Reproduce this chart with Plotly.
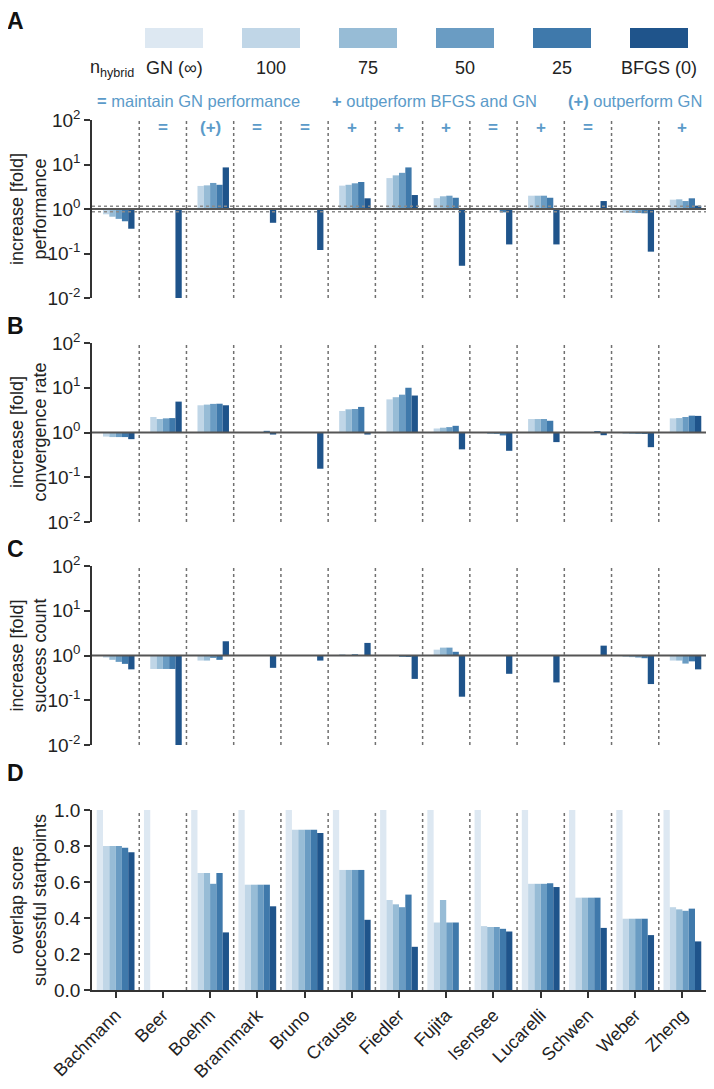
import plotly.graph_objects as go

# the page adds an 8px body margin, so the figure is drawn 16px smaller
PAGE_W, PAGE_H, OFF = 714, 1089, 8
W, H = PAGE_W - 2 * OFF, PAGE_H - 2 * OFF
LEFT, RIGHT = 92 - OFF, 0

models = ['Bachmann', 'Beer', 'Boehm', 'Brannmark', 'Bruno', 'Crauste', 'Fiedler',
          'Fujita', 'Isensee', 'Lucarelli', 'Schwen', 'Weber', 'Zheng']
nhybrid_labels = ['GN (∞)', '100', '75', '50', '25', 'BFGS (0)']
colors = ['#dde8f2', '#c0d6e7', '#97bcd6', '#6a9cc3', '#3f79ab', '#1f548b']

# marks above panel A: = maintain GN, + outperform BFGS and GN, (+) outperform GN
verdicts = ['', '=', '(+)', '=', '=', '+', '+', '+', '=', '+', '=', '', '+']

# fold change relative to GN, one row per n_hybrid (GN, 100, 75, 50, 25, BFGS)
performance = [
    [1.0] * 13,
    [0.76, 1.0, 3.3, 1.0, 0.98, 3.35, 4.95, 1.75, 1.0, 1.99, 1.0, 0.82, 1.62],
    [0.67, 1.0, 3.4, 1.0, 0.98, 3.5, 5.7, 1.93, 0.99, 1.99, 1.0, 0.82, 1.65],
    [0.6, 1.0, 3.85, 1.0, 0.98, 3.78, 6.5, 1.99, 0.96, 1.99, 1.0, 0.81, 1.51],
    [0.53, 1.0, 3.5, 0.98, 0.98, 4.05, 8.6, 1.79, 0.84, 1.79, 1.04, 0.8, 1.74],
    [0.36, 0.01, 8.6, 0.49, 0.12, 1.74, 2.06, 0.053, 0.16, 0.16, 1.51, 0.11, 1.19],
]
convergence = [
    [1.0] * 13,
    [0.81, 2.22, 4.06, 1.0, 0.98, 3.03, 5.5, 1.23, 0.98, 2.0, 1.0, 0.97, 2.07],
    [0.79, 2.0, 4.2, 1.0, 0.98, 3.3, 6.15, 1.28, 0.95, 2.0, 1.0, 0.97, 2.1],
    [0.79, 2.07, 4.36, 1.02, 0.98, 3.35, 7.0, 1.32, 0.95, 2.0, 1.0, 0.97, 2.22],
    [0.79, 2.1, 4.4, 1.09, 0.98, 3.73, 10.0, 1.41, 0.86, 1.83, 1.05, 0.97, 2.38],
    [0.71, 4.9, 4.06, 0.9, 0.155, 0.9, 6.7, 0.42, 0.39, 0.61, 0.87, 0.47, 2.35],
]
success = [
    [1.0] * 13,
    [0.9, 0.5, 0.77, 1.0, 1.0, 1.04, 0.99, 1.35, 1.0, 1.0, 1.0, 0.93, 0.77],
    [0.8, 0.5, 0.77, 1.0, 1.0, 1.0, 0.99, 1.5, 1.0, 1.0, 1.0, 0.92, 0.77],
    [0.72, 0.5, 0.88, 1.0, 1.0, 1.05, 0.97, 1.5, 1.0, 1.0, 1.0, 0.9, 0.66],
    [0.65, 0.5, 0.8, 1.0, 1.0, 1.0, 0.93, 1.21, 1.0, 1.0, 1.0, 0.87, 0.74],
    [0.49, 0.01, 2.08, 0.53, 0.77, 1.91, 0.3, 0.12, 0.39, 0.25, 1.66, 0.23, 0.49],
]
overlap = [
    [1.0] * 13,
    [0.8, 0, 0.65, 0.585, 0.89, 0.667, 0.5, 0.375, 0.355, 0.59, 0.513, 0.396, 0.46],
    [0.8, 0, 0.65, 0.585, 0.89, 0.667, 0.476, 0.5, 0.35, 0.59, 0.513, 0.396, 0.448],
    [0.8, 0, 0.59, 0.585, 0.89, 0.667, 0.46, 0.375, 0.35, 0.59, 0.513, 0.396, 0.44],
    [0.79, 0, 0.65, 0.585, 0.89, 0.667, 0.53, 0.375, 0.34, 0.593, 0.513, 0.396, 0.452],
    [0.765, 0, 0.32, 0.465, 0.872, 0.39, 0.24, 0, 0.325, 0.572, 0.345, 0.305, 0.27],
]

FONT = 'Liberation Sans, Arial, sans-serif'
BLUE = '#5b9bc9'
AXIS = '#333333'


def px(p):
    # page x pixel -> paper x
    return (p - OFF - LEFT) / (W - LEFT - RIGHT)


def py(p):
    # page y pixel -> paper y
    return 1 - (p - OFF) / H


panels = [
    ('A', performance, 'increase [fold]<br>performance', 120, 298, True),
    ('B', convergence, 'increase [fold]<br>convergence rate', 343, 522, True),
    ('C', success, 'increase [fold]<br>success count', 566, 745, True),
    ('D', overlap, 'overlap score<br>successful startpoints', 810, 990, False),
]
letter_y = {'A': 21, 'B': 326, 'C': 549, 'D': 773}

xpos = list(range(len(models)))
fig = go.Figure()
shapes = []
annotations = []
layout = {}

for k, (letter, data, title, top, bottom, is_log) in enumerate(panels):
    n = '' if k == 0 else str(k + 1)
    xa, ya = 'x' + n, 'y' + n
    for j, series in enumerate(data):
        if is_log:
            fig.add_bar(x=xpos, y=[v - 1 for v in series], base=1, xaxis=xa, yaxis=ya,
                        marker=dict(color=colors[j], line=dict(width=0)),
                        name=nhybrid_labels[j], showlegend=False)
        else:
            fig.add_bar(x=xpos, y=series, xaxis=xa, yaxis=ya,
                        marker=dict(color=colors[j], line=dict(width=0)),
                        name=nhybrid_labels[j], showlegend=False)
    if is_log:
        if letter == 'A':
            for thr in (1.15, 1 / 1.15):
                fig.add_scatter(x=[-0.5, 12.5], y=[thr, thr], mode='lines', xaxis=xa, yaxis=ya,
                                line=dict(color='#8a8a8a', width=1.5, dash='dot'),
                                showlegend=False, hoverinfo='skip')
        fig.add_scatter(x=[-0.5, 12.5], y=[1, 1], mode='lines', xaxis=xa, yaxis=ya,
                        line=dict(color='#555555', width=2), showlegend=False, hoverinfo='skip')

    for i in range(len(models) - 1):
        shapes.append(dict(type='line', xref=xa, yref=ya + ' domain', x0=i + 0.5, x1=i + 0.5,
                           y0=0, y1=1, line=dict(color='#707070', width=1.5, dash='dot')))

    xaxis = dict(domain=[0, 1], range=[-0.5, 12.5], anchor=ya, showgrid=False, zeroline=False,
                 showticklabels=False, ticks='', showline=False, automargin=False)
    if k == 3:
        xaxis.update(tickvals=xpos, ticktext=models, showticklabels=True, tickangle=-45,
                     ticks='outside', ticklen=6, tickwidth=1.5, tickcolor=AXIS,
                     showline=True, linecolor=AXIS, linewidth=1.5,
                     tickfont=dict(size=18, color='#222'))
    layout['xaxis' + n] = xaxis

    yaxis = dict(domain=[py(bottom), py(top)], anchor=xa, showgrid=False, zeroline=False,
                 showline=True, linecolor=AXIS, linewidth=1.5, ticks='outside', ticklen=6,
                 tickwidth=1.5, tickcolor=AXIS, tickfont=dict(size=19, color='#222'),
                 automargin=False)
    if is_log:
        yaxis.update(type='log', range=[-2, 2], tickvals=[0.01, 0.1, 1, 10, 100],
                     ticktext=['10<sup>-2</sup>', '10<sup>-1</sup>', '10<sup>0</sup>',
                               '10<sup>1</sup>', '10<sup>2</sup>'])
    else:
        yaxis.update(range=[0, 1.0], tickvals=[0, 0.2, 0.4, 0.6, 0.8, 1.0],
                     ticktext=['0.0', '0.2', '0.4', '0.6', '0.8', '1.0'])
    layout['yaxis' + n] = yaxis

    annotations.append(dict(text=title, textangle=-90, xref='paper', yref='paper',
                            x=px(28), y=py((top + bottom) / 2), xanchor='center', yanchor='middle',
                            showarrow=False, font=dict(size=18, color='#222')))
    annotations.append(dict(text='<b>%s</b>' % letter, xref='paper', yref='paper',
                            x=px(15), y=py(letter_y[letter]), xanchor='center', yanchor='middle',
                            showarrow=False, font=dict(size=23, color='#111')))

# verdict marks above panel A
for i, v in enumerate(verdicts):
    if v:
        annotations.append(dict(text='<b>%s</b>' % v, xref='x', yref='paper', x=i, y=py(128),
                                xanchor='center', yanchor='middle', showarrow=False,
                                font=dict(size=17, color=BLUE)))

# legend drawn by hand: swatch above label
for i, lab in enumerate(nhybrid_labels):
    x0 = 145 + 97 * i
    shapes.append(dict(type='rect', xref='paper', yref='paper', x0=px(x0), x1=px(x0 + 58),
                       y0=py(48), y1=py(28), fillcolor=colors[i], line=dict(width=0)))
    annotations.append(dict(text=lab, xref='paper', yref='paper', x=px(x0 + 29), y=py(68),
                            xanchor='center', yanchor='middle', showarrow=False,
                            font=dict(size=18, color='#222')))
annotations.append(dict(text='n<sub>hybrid</sub>', xref='paper', yref='paper', x=px(112), y=py(68),
                        xanchor='center', yanchor='middle', showarrow=False,
                        font=dict(size=18, color='#222')))

key_texts = [(95, '<b>=</b> maintain GN performance'),
             (330, '<b>+</b> outperform BFGS and GN'),
             (566, '<b>(+)</b> outperform GN')]
for x0, txt in key_texts:
    annotations.append(dict(text=txt, xref='paper', yref='paper', x=px(x0), y=py(101),
                            xanchor='left', yanchor='middle', showarrow=False,
                            font=dict(size=16.5, color=BLUE)))

fig.update_layout(
    width=W, height=H,
    margin=dict(l=LEFT, r=RIGHT, t=0, b=0),
    barmode='group', bargap=0.2, bargroupgap=0,
    plot_bgcolor='white', paper_bgcolor='white',
    font=dict(family=FONT, color='#222'),
    shapes=shapes, annotations=annotations,
    **layout
)

fig.write_html("out.html")
